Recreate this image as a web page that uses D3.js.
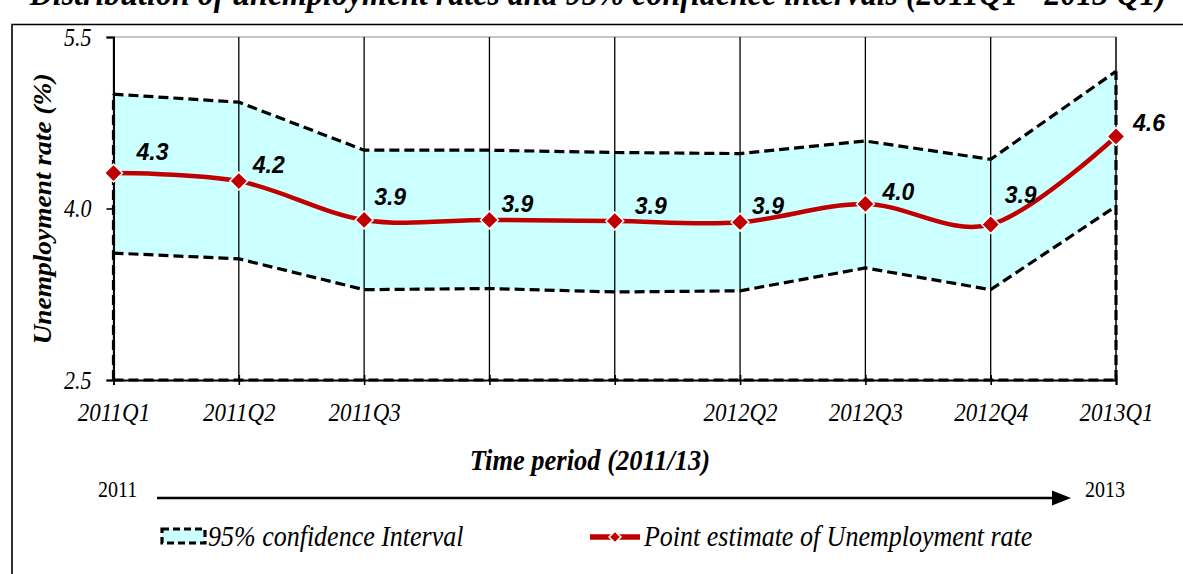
<!DOCTYPE html>
<html>
<head>
<meta charset="utf-8">
<script src="https://cdn.jsdelivr.net/npm/d3@7"></script>
<style>
  html, body { margin: 0; padding: 0; background: #fff; }
  svg { display: block; }
</style>
</head>
<body>
<svg id="chart" width="1183" height="574"></svg>
<script>
// ---------------- data ----------------
const categories = ["2011Q1","2011Q2","2011Q3","2011Q4","2012Q1","2012Q2","2012Q3","2012Q4","2013Q1"];
const tickLabels = ["2011Q1","2011Q2","2011Q3","","","2012Q2","2012Q3","2012Q4","2013Q1"];
const pointEstimate = [4.31, 4.24, 3.90, 3.90, 3.89, 3.88, 4.04, 3.86, 4.63];
const upperBound    = [5.00, 4.93, 4.51, 4.51, 4.49, 4.48, 4.59, 4.43, 5.20];
const lowerBound    = [3.61, 3.56, 3.29, 3.30, 3.27, 3.28, 3.48, 3.29, 4.02];
const yTicks = [2.5, 4.0, 5.5];
const yDomain = [2.5, 5.5];
const titleText = "Distribution of unemployment rates and 95% confidence intervals (2011Q1 - 2013 Q1)";
const yTitle = "Unemployment rate (%)";
const xTitle = "Time period (2011/13)";
const periodStart = "2011";
const periodEnd = "2013";
const legendCI = "95% confidence Interval";
const legendPoint = "Point estimate of Unemployment rate";

// ---------------- layout ----------------
const svg = d3.select("#chart");
const serif = "'Liberation Serif','Times New Roman',serif";
const sans = "'Liberation Sans',Arial,sans-serif";
const red = "#C00000";
const cyan = "#CCFFFF";
const dash = "10,5";
const K = 1.12; // vertical stretch of serif text seen in the reference

// stretch a horizontal text vertically about its baseline
function stretch(sel) {
  sel.each(function () {
    const t = d3.select(this);
    const yb = +t.attr("y") || 0;
    t.attr("transform", `translate(0,${yb}) scale(1,${K}) translate(0,${-yb})`);
  });
}

const x = d3.scalePoint().domain(categories).range([113.5, 1116]);
const y = d3.scaleLinear().domain(yDomain).range([380, 37]);
const rows = categories.map((c, i) => ({c, p: pointEstimate[i], lo: lowerBound[i], hi: upperBound[i], lab: tickLabels[i]}));
// label placement nudges (dx, dy) relative to each point
const labelNudge = [[23,-13],[14,-8],[10,-15],[12,-8],[20,-7],[12,-8],[17,-4],[14,-22],[17,-5]];

// title (cropped at top)
svg.append("text").attr("x", 598).attr("y", 5).attr("text-anchor", "middle")
  .attr("font-family", serif).attr("font-weight", "bold").attr("font-style", "italic")
  .attr("font-size", 32).text(titleText).call(stretch);

// outer chart border
svg.append("path").attr("d", "M12,600 L12,24.5 L1200,24.5")
  .attr("fill", "none").attr("stroke", "#000").attr("stroke-width", 1.6);

const x0 = x(categories[0]), x1 = x(categories[categories.length - 1]);

// plot-area border (top and right, grey)
svg.append("path").attr("d", `M${x0},${y(yDomain[1])} L${x1},${y(yDomain[1])} L${x1},${y(yDomain[0])}`)
  .attr("fill", "none").attr("stroke", "#8c8c8c").attr("stroke-width", 1.2);

// confidence band
svg.append("path").datum(rows)
  .attr("d", d3.area().x(d => x(d.c)).y0(d => y(d.lo)).y1(d => y(d.hi)))
  .attr("fill", cyan);

// vertical gridlines
svg.append("g").selectAll("line").data(categories).join("line")
  .attr("x1", d => x(d)).attr("x2", d => x(d))
  .attr("y1", y(yDomain[1])).attr("y2", y(yDomain[0]))
  .attr("stroke", "#000").attr("stroke-width", 1.3);

// y axis
const yAxis = svg.append("g").attr("transform", `translate(${x0},0)`)
  .call(d3.axisLeft(y).tickValues(yTicks).tickFormat(d3.format(".1f")).tickSize(7).tickPadding(15));
yAxis.select(".domain").attr("stroke", "#000").attr("stroke-width", 2);
yAxis.selectAll(".tick line").attr("stroke", "#000").attr("stroke-width", 1.6);
yAxis.selectAll(".tick text").attr("font-family", serif).attr("font-style", "italic")
  .attr("font-size", 22).attr("fill", "#000").attr("dy", null).attr("y", 8).call(stretch);

// x axis
const xAxis = svg.append("g").attr("transform", `translate(0,${y(yDomain[0])})`)
  .call(d3.axisBottom(x).tickFormat((d, i) => tickLabels[i]).tickSizeOuter(0).tickSize(5));
xAxis.select(".domain").attr("stroke", "#000").attr("stroke-width", 2);
xAxis.selectAll(".tick line").attr("y1", -5).attr("y2", 5).attr("stroke", "#000").attr("stroke-width", 1.6);
xAxis.selectAll(".tick text").attr("font-family", serif).attr("font-style", "italic")
  .attr("font-size", 23).attr("fill", "#000").attr("dy", null).attr("y", 41).call(stretch);

// dashed outlines of the stacked areas
const dashed = svg.append("g").attr("fill", "none").attr("stroke", "#000")
  .attr("stroke-width", 3.2).attr("stroke-dasharray", dash);
dashed.append("path").datum(rows).attr("d", d3.line().x(d => x(d.c)).y(d => y(d.hi)));
dashed.append("path").datum(rows).attr("d", d3.line().x(d => x(d.c)).y(d => y(d.lo)));
dashed.append("line").attr("x1", x0).attr("x2", x1).attr("y1", y(yDomain[0])).attr("y2", y(yDomain[0]));
dashed.append("line").attr("x1", x0).attr("x2", x0).attr("y1", y(yDomain[0])).attr("y2", y(upperBound[0]));
dashed.append("line").attr("x1", x1).attr("x2", x1).attr("y1", y(yDomain[0])).attr("y2", y(upperBound[upperBound.length-1]));

// point estimate line
svg.append("path").datum(rows)
  .attr("d", d3.line().x(d => x(d.c)).y(d => y(d.p)).curve(d3.curveCatmullRom.alpha(0)))
  .attr("fill", "none").attr("stroke", red).attr("stroke-width", 4.5);

// markers
const diamond = d3.symbol(d3.symbolSquare, 160);
svg.append("g").selectAll("path").data(rows).join("path")
  .attr("d", diamond)
  .attr("transform", d => `translate(${x(d.c)},${y(d.p)}) rotate(45)`)
  .attr("fill", red).attr("stroke", "#fff").attr("stroke-width", 1.5);

// data labels
svg.append("g").selectAll("text").data(rows).join("text")
  .attr("x", (d, i) => x(d.c) + labelNudge[i][0])
  .attr("y", (d, i) => y(d.p) + labelNudge[i][1])
  .attr("font-family", sans).attr("font-weight", "bold").attr("font-style", "italic")
  .attr("font-size", 23).attr("fill", "#000")
  .text(d => d.p.toFixed(1));

// axis titles
svg.append("text").attr("transform", `translate(51,209) scale(1,${K}) rotate(-90)`).attr("text-anchor", "middle")
  .attr("font-family", serif).attr("font-weight", "bold").attr("font-style", "italic")
  .attr("font-size", 24.5).text(yTitle);
svg.append("text").attr("x", 590).attr("y", 470).attr("text-anchor", "middle")
  .attr("font-family", serif).attr("font-weight", "bold").attr("font-style", "italic")
  .attr("font-size", 26.5).text(xTitle).call(stretch);

// period arrow
svg.append("text").attr("x", 98).attr("y", 497).attr("font-family", serif).attr("font-size", 20).text(periodStart).call(stretch);
svg.append("text").attr("x", 1085).attr("y", 497).attr("font-family", serif).attr("font-size", 20).text(periodEnd).call(stretch);
svg.append("line").attr("x1", 157).attr("x2", 1056).attr("y1", 498).attr("y2", 498)
  .attr("stroke", "#000").attr("stroke-width", 2.5);
svg.append("path").attr("d", "M1052,490.5 L1071,498 L1052,505.5 Z").attr("fill", "#000");

// legend
svg.append("rect").attr("x", 162).attr("y", 529).attr("width", 43).attr("height", 14)
  .attr("fill", cyan).attr("stroke", "#000").attr("stroke-width", 3.2).attr("stroke-dasharray", "7,4");
svg.append("text").attr("x", 208).attr("y", 546).attr("font-family", serif).attr("font-style", "italic")
  .attr("font-size", 26).text(legendCI).call(stretch);
svg.append("line").attr("x1", 590).attr("x2", 640).attr("y1", 537).attr("y2", 537)
  .attr("stroke", red).attr("stroke-width", 5.5);
svg.append("path").attr("d", d3.symbol(d3.symbolSquare, 70))
  .attr("transform", "translate(615,537) rotate(45)")
  .attr("fill", red).attr("stroke", "#fff").attr("stroke-width", 1.5);
svg.append("text").attr("x", 644).attr("y", 546).attr("font-family", serif).attr("font-style", "italic")
  .attr("font-size", 26).text(legendPoint).call(stretch);
</script>
</body>
</html>
